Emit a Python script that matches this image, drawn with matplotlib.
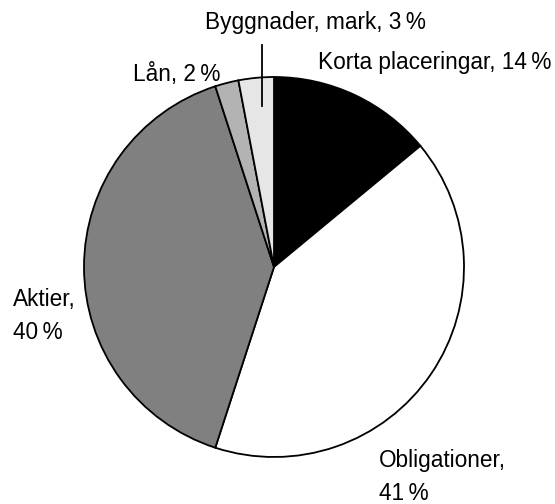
import matplotlib.pyplot as plt

plt.rcParams['font.family'] = ['Liberation Sans', 'DejaVu Sans']

# slices, clockwise from the top
labels = ['Korta placeringar', 'Obligationer', 'Aktier', 'Lån', 'Byggnader, mark']
shares = [14, 41, 40, 2, 3]
colors = ['#000000', '#ffffff', '#808080', '#b3b3b3', '#e6e6e6']

# label texts as printed on the chart (narrow space before %)
label_texts = ['Korta placeringar, 14\u2009%', 'Obligationer,\n41\u2009%', 'Aktier,\n40\u2009%',
               'Lån, 2\u2009%', 'Byggnader, mark, 3\u2009%']

W, H = 555, 504
CX, CY, R = 274, 267, 190


def to_data(px, py):
    """pixel position -> pie data coordinates (radius 1)"""
    return (px - CX) / R, (CY - py) / R


fig = plt.figure(figsize=(W / 100, H / 100), dpi=100)
ax = fig.add_axes([(CX - R) / W, (H - CY - R) / H, 2 * R / W, 2 * R / H])
ax.pie(shares, colors=colors, startangle=90, counterclock=False,
       wedgeprops={'edgecolor': 'black', 'linewidth': 1.3})
ax.set_xlim(-1, 1)
ax.set_ylim(-1, 1)
ax.axis('off')

FS = 16.3
# label anchor points (pixels): x, y, ha, va
spots = [(318, 62, 'left', 'center'),
         (379, 477, 'left', 'center'),
         (13, 316, 'left', 'center'),
         (133, 75, 'left', 'center'),
         (315, 22, 'center', 'center')]
for txt, (px, py, ha, va) in zip(label_texts, spots):
    x, y = to_data(px, py)
    ax.text(x, y, txt, ha=ha, va=va, fontsize=FS, linespacing=1.6,
            clip_on=False)

# leader line for the Byggnader slice
x0, y0 = to_data(262, 45)
x1, y1 = to_data(262, 106)
ax.plot([x0, x1], [y0, y1], color='black', linewidth=1.3, clip_on=False)

fig.savefig('out.png', dpi=100)
